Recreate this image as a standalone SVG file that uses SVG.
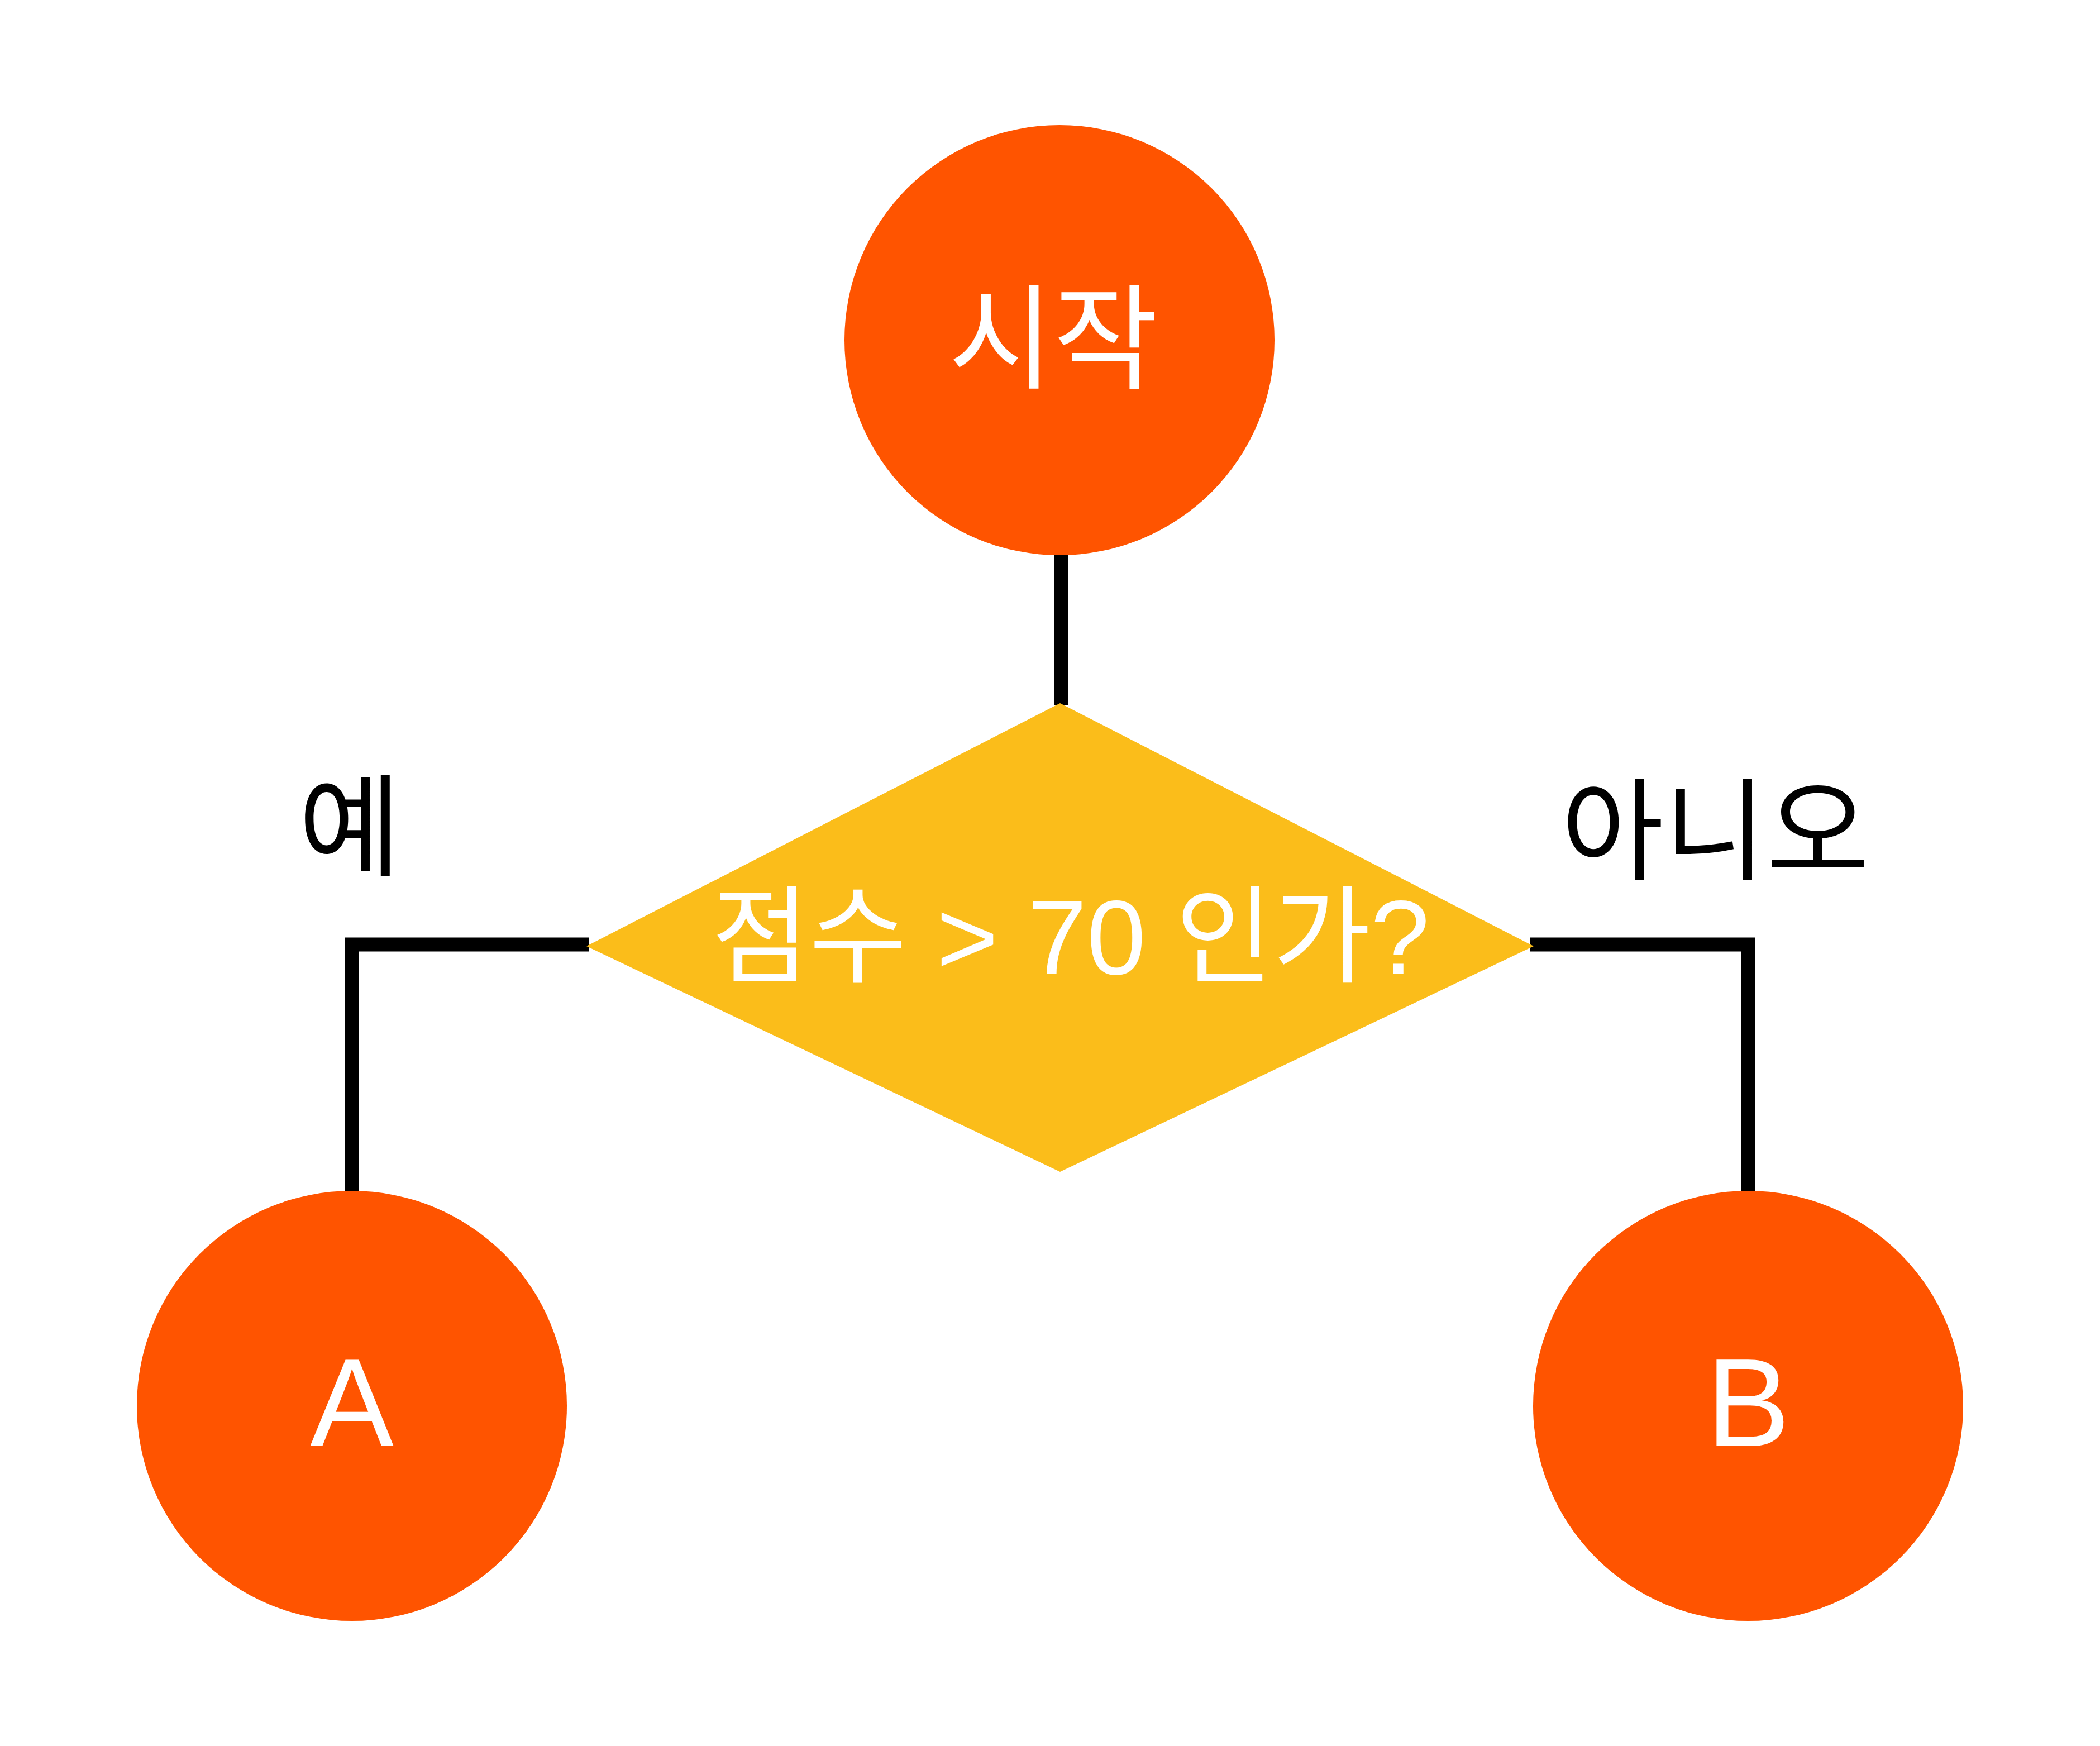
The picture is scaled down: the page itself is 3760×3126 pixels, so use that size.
<svg xmlns="http://www.w3.org/2000/svg" width="3760" height="3126" viewBox="0 0 3760 3126">
<style>
.conn{fill:none;stroke:#000;stroke-width:25;stroke-linejoin:miter;stroke-linecap:butt}
.term{fill:#FF5400}
.dec{fill:#FBBD1A}
.lbl{font-family:"Liberation Sans","Noto Sans CJK KR",sans-serif;fill:#fff;text-anchor:middle}
.edge{font-family:"Liberation Sans","Noto Sans CJK KR",sans-serif;fill:#000;text-anchor:middle;font-size:200px}
</style>
<rect width="3760" height="3126" fill="#fff"/>
<g id="connectors">
<path class="conn" d="M1900,994 V1262"/>
<path class="conn" d="M1055,1691 H630 V2135"/>
<path class="conn" d="M2740,1691 H3130 V2135"/>
</g>
<g id="start">
<circle class="term" cx="1897" cy="609" r="385"/>
<text class="lbl" x="1886" y="680" font-size="204">시작</text>
</g>
<g id="decision">
<polygon class="dec" points="1898,1259 2746,1694 1898,2098 1050,1694"/>
<text class="lbl" x="1917" y="1744" font-size="190">점수 &gt; 70 인가?</text>
</g>
<g id="nodeA">
<circle class="term" cx="630" cy="2517" r="385"/>
<text class="lbl" x="630" y="2589" font-size="225">A</text>
</g>
<g id="nodeB">
<circle class="term" cx="3130" cy="2517" r="385"/>
<text class="lbl" x="3130" y="2589" font-size="225">B</text>
</g>
<g id="labels">
<text class="edge" x="626" y="1553">예</text>
<text class="edge" x="3071" y="1560">아니오</text>
</g>
</svg>
